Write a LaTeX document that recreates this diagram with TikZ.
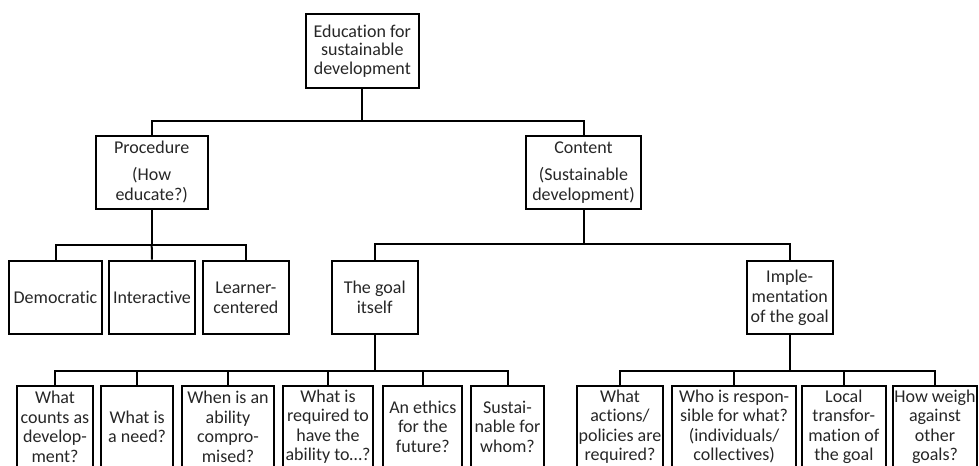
\documentclass[tikz,border=0pt]{standalone}
\usepackage{fontspec}
\setmainfont{Carlito}[Ligatures=NoCommon]
\tikzset{
  box/.style 2 args={draw=black, line width=1.5pt, inner sep=0pt, align=center,
    text=black!85, minimum width=#1*0.75pt, minimum height=#2*0.75pt,
    font=\fontsize{13.5}{15}\selectfont},
  topbox/.style={font=\fontsize{13.5}{13.7}\selectfont},
  leafbox/.style={font=\fontsize{13.5}{14.6}\selectfont},
  conn/.style={draw=black, line width=1.5pt}
}
\begin{document}
\begin{tikzpicture}[x=0.75pt,y=-0.75pt]
\useasboundingbox (0,0) rectangle (979,465);
\clip (0,0) rectangle (979,465);
% level 0
\node[box={112.7}{74}, topbox] (top) at (362.3,51) {Education for\\sustainable\\development};
% level 1
\node[box={112}{73.3}] (proc) at (151.7,172.3) {Procedure\\[5.4pt](How\\educate?)};
\node[box={115}{73.3}] (cont) at (583.5,172.3) {Content\\[5.4pt](Sustainable\\development)};
% level 2
\node[box={92.4}{73.6}] (dem) at (55.5,297.5) {Democratic};
\node[box={86}{73.6}] (int) at (152,297.5) {Interactive};
\node[box={85.7}{73.6}] (lea) at (245.85,297.5) {Learner-\\centered};
\node[box={86}{73.6}] (goal) at (374.7,297.5) {The goal\\itself};
\node[box={86}{73.6}] (impl) at (789.7,297.5) {Imple-\\mentation\\of the goal};
% level 3
\node[box={75.4}{82}, leafbox] (q1) at (55,426.7) {What\\counts as\\develop-\\ment?};
\node[box={72.3}{82}, leafbox] (q2) at (137.15,426.7) {What is\\a need?};
\node[box={92.6}{82}, leafbox] (q3) at (228,426.7) {When is an\\ability\\compro-\\mised?};
\node[box={90.6}{82}, leafbox] (q4) at (328,426.7) {What is\\required to\\have the\\ability to…?};
\node[box={79}{82}, leafbox] (q5) at (422.8,426.7) {An ethics\\for the\\future?};
\node[box={73.6}{82}, leafbox] (q6) at (507.5,426.7) {Sustai-\\nable for\\whom?};
\node[box={86.6}{82}, leafbox] (q7) at (620,426.7) {What\\actions/\\policies are\\required?};
\node[box={123.7}{82}, leafbox] (q8) at (734.15,426.7) {Who is respon-\\sible for what?\\(individuals/\\collectives)};
\node[box={84.3}{82}, leafbox] (q9) at (843.85,426.7) {Local\\transfor-\\mation of\\the goal};
\node[box={83.4}{82}, leafbox] (q10) at (935,426.7) {How weigh\\against\\other\\goals?};
% bars
\coordinate (b0) at (362.3,121);
\coordinate (b1) at (151.7,245);
\coordinate (b2) at (583.5,244.3);
\coordinate (b3) at (374.7,371);
\coordinate (b4) at (789.7,371);
% connectors
\draw[conn] (top.south) -- (b0) -| (proc.north);
\draw[conn] (b0) -| (cont.north);
\draw[conn] (proc.south) -- (b1) -| (dem.north);
\draw[conn] (b1) -- (int.north);
\draw[conn] (b1) -| (lea.north);
\draw[conn] (cont.south) -- (b2) -| (goal.north);
\draw[conn] (b2) -| (impl.north);
\draw[conn] (goal.south) -- (b3) -| (q1.north);
\draw[conn] (b3) -| (q2.north);
\draw[conn] (b3) -| (q3.north);
\draw[conn] (b3) -| (q4.north);
\draw[conn] (b3) -| (q5.north);
\draw[conn] (b3) -| (q6.north);
\draw[conn] (impl.south) -- (b4) -| (q7.north);
\draw[conn] (b4) -| (q8.north);
\draw[conn] (b4) -| (q9.north);
\draw[conn] (b4) -| (q10.north);
\end{tikzpicture}
\end{document}
